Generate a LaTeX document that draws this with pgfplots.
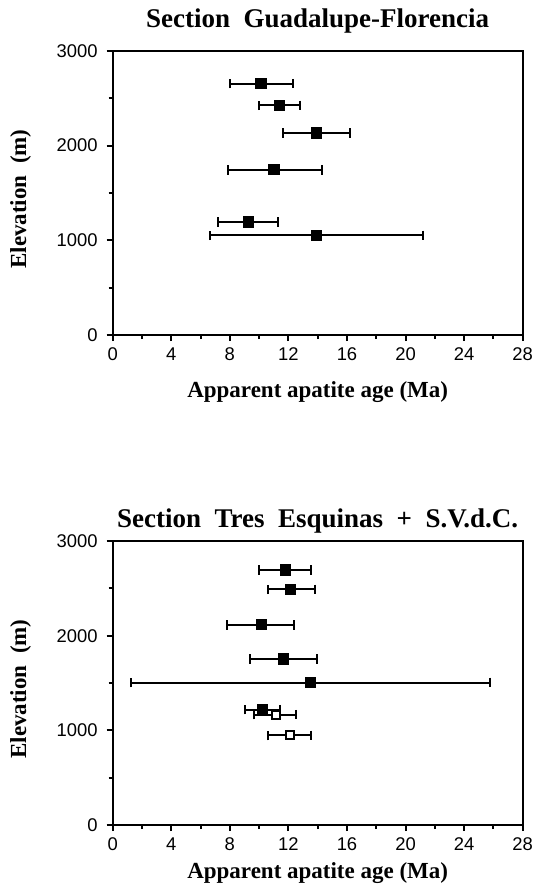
\documentclass[border=0pt]{standalone}
\usepackage{fontspec}
\setmainfont{Liberation Serif}
\newfontfamily\ticksans{Liberation Sans}
\usepackage{pgfplots}
\usepackage{pgfplotstable}
\pgfplotsset{compat=1.18}

% age (Ma), elevation (m), minus / plus error (Ma)
\pgfplotstableread{
x      y     xm     xp
10.13  2655  2.15   2.16
11.40  2426  1.40   1.41
13.92  2133  2.27   2.29
11.02  1746  3.18   3.29
9.29   1193  2.10   2.00
13.92  1052  7.30   7.28
}\guadalupe

\pgfplotstableread{
x      y     xm     xp
11.81  2694  1.80   1.76
12.13  2489  1.52   1.67
10.15  2114  2.32   2.26
11.68  1753  2.33   2.25
13.50  1505  12.24  12.24
10.22  1219  1.16   1.18
}\tresfilled

\pgfplotstableread{
x      y     xm     xp
11.13  1166  1.46   1.37
12.11  946   1.50   1.44
}\svdcopen

\pgfplotsset{
  agepanel/.style={
    scale only axis,
    width=205pt, height=142pt,
    xmin=0, xmax=28, ymin=0, ymax=3000,
    xtick={0,4,...,28}, minor xtick={2,6,...,26},
    ytick={0,1000,2000,3000}, minor ytick={500,1500,2500},
    xtick pos=bottom, ytick pos=left,
    tick align=outside,
    major tick length=3pt, minor tick length=2pt,
    every tick/.style={black, line width=1pt},
    axis line style={line width=1.2pt},
    /pgf/number format/assume math mode=true,
    /pgf/number format/set thousands separator={},
    ticklabel style={font=\ticksans\fontsize{9.2}{9.2}\selectfont},
    xticklabel style={yshift=0pt},
    yticklabel style={xshift=-1pt},
    xlabel={Apparent apatite age (Ma)},
    ylabel={Elevation\ \ (m)},
    label style={font=\bfseries\fontsize{11.5}{12}\selectfont},
    ylabel style={at={(axis description cs:0,0.5)}, anchor=center, yshift=46pt, xshift=-3pt},
    title style={font=\bfseries\fontsize{13.5}{14}\selectfont, anchor=center},
    clip=false,
  },
  agebars/.style={
    only marks, black, mark=square*,
    error bars/.cd, x dir=both, x explicit,
    error bar style={line width=1pt, black},
    error mark options={rotate=90, mark size=2.4pt, line width=1pt, black},
  },
}

\begin{document}
\begin{tikzpicture}
\path[use as bounding box] (0,0) rectangle (266.5pt,-446pt);

\begin{axis}[agepanel,
  at={(56.35pt,-167.5pt)}, anchor=south west,
  title={Section\ \ Guadalupe-Florencia},
  title style={at={(axis description cs:0.5,1)}, yshift=9pt},
  xlabel style={at={(axis description cs:0.5,0)}, anchor=center, yshift=-28.5pt},
]
\addplot[mark size=2.5pt, mark options={fill=black, draw=black, line width=0.6pt}, agebars]
  table[x=x, y=y, x error minus=xm, x error plus=xp] {\guadalupe};
\end{axis}

\begin{axis}[agepanel,
  at={(56.35pt,-412.5pt)}, anchor=south west,
  title={Section\ \ Tres\ \ Esquinas\ \ +\ \ S.V.d.C.},
  title style={at={(axis description cs:0.5,1)}, yshift=4pt},
  xlabel style={at={(axis description cs:0.5,0)}, anchor=center, yshift=-24pt},
]
\addplot[mark size=2.5pt, mark options={fill=black, draw=black, line width=0.6pt}, agebars]
  table[x=x, y=y, x error minus=xm, x error plus=xp] {\tresfilled};
\addplot[mark size=2pt, mark options={fill=white, draw=black, line width=1pt}, agebars]
  table[x=x, y=y, x error minus=xm, x error plus=xp] {\svdcopen};
\end{axis}
\end{tikzpicture}
\end{document}
